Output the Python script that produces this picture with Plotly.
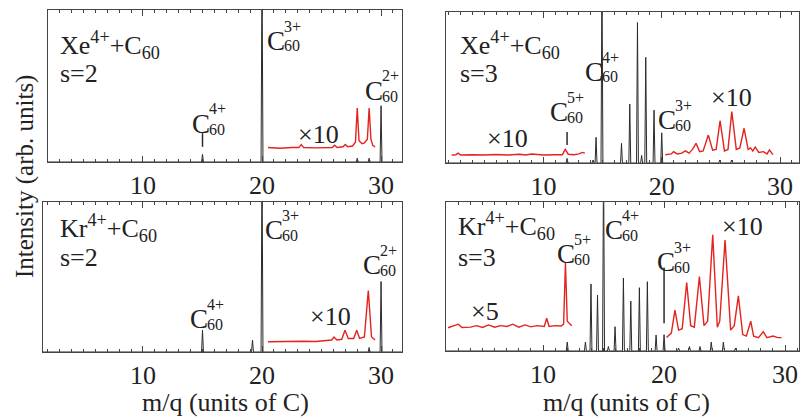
import plotly.graph_objects as go

W, H = 800, 417

# ---------------- data ----------------
# Panel A: Xe4+ + C60, s=2  (black spectrum peaks: position, height)
a_pk_x = [15.0, 20.0, 28.0, 29.0, 30.0]
a_pk_y = [0.05, 1.30, 0.025, 0.025, 0.37]
a_red_x = [20.5, 21.5, 22.5, 23.1, 23.3, 23.5, 24.5, 25.5, 25.9, 26.1, 26.3, 26.8, 27.0, 27.2,
           27.6, 27.85, 28.0, 28.15, 28.4, 28.6, 28.85, 29.0, 29.15, 29.3, 29.5]
a_red_y = [0.095, 0.09, 0.095, 0.095, 0.115, 0.095, 0.093, 0.095, 0.095, 0.11, 0.095, 0.1, 0.115, 0.1,
           0.105, 0.13, 0.355, 0.14, 0.12, 0.125, 0.15, 0.355, 0.15, 0.11, 0.1]
a_mark_x, a_mark_y0, a_mark_y1 = [15.0], [0.10], [0.19]

# Panel B: Xe4+ + C60, s=3
b_pk_x = [12.0, 14.2, 14.45, 14.95, 16.6, 17.3, 17.95, 18.3, 18.65, 19.35, 20.0, 24.9, 25.9]
b_pk_y = [0.03, 0.02, 0.17, 1.30, 0.13, 0.39, 0.93, 0.05, 0.70, 0.35, 0.20, 0.02, 0.02]
b_redL_x = [2.25, 2.6, 2.8, 3.0, 4.0, 5.0, 6.0, 7.0, 8.0, 8.5, 9.0, 9.5, 10.0, 11.0, 11.6,
            11.85, 12.1, 12.6, 13.0, 13.3, 13.5]
b_redL_y = [0.053, 0.055, 0.065, 0.053, 0.055, 0.053, 0.056, 0.053, 0.058, 0.053, 0.06, 0.055,
            0.053, 0.055, 0.055, 0.09, 0.058, 0.055, 0.06, 0.07, 0.065]
b_redR_x = [20.3, 20.8, 21.0, 21.3, 21.7, 22.0, 22.3, 22.6, 22.9, 23.2, 23.5, 23.94, 24.3, 24.6,
            24.93, 25.3, 25.6, 25.92, 26.3, 26.6, 26.96, 27.3, 27.5, 27.7, 27.9, 28.2, 28.6, 28.9,
            29.1, 29.4]
b_redR_y = [0.055, 0.06, 0.075, 0.06, 0.065, 0.08, 0.065, 0.09, 0.13, 0.075, 0.08, 0.185, 0.085,
            0.09, 0.28, 0.08, 0.09, 0.34, 0.09, 0.1, 0.23, 0.09, 0.1, 0.08, 0.106, 0.07, 0.075,
            0.06, 0.086, 0.055]
b_mark_x, b_mark_y0, b_mark_y1 = [12.0], [0.12], [0.205]

# Panel C: Kr4+ + C60, s=2
c_pk_x = [15.0, 19.2, 20.0, 29.0, 30.0]
c_pk_y = [0.145, 0.08, 1.30, 0.03, 0.47]
c_red_x = [20.5, 21.5, 22.5, 23.5, 24.5, 25.5, 25.85, 26.05, 26.3, 26.7, 26.97, 27.25, 27.7,
           27.96, 28.2, 28.6, 28.93, 29.2, 29.5]
c_red_y = [0.068, 0.07, 0.068, 0.072, 0.07, 0.075, 0.08, 0.1, 0.08, 0.085, 0.145, 0.09, 0.09,
           0.145, 0.09, 0.1, 0.41, 0.1, 0.08]

# Panel D: Kr4+ + C60, s=3
d_pk_x = [12.0, 13.5, 13.96, 14.5, 15.0, 15.4, 15.95, 16.64, 17.25, 17.96, 18.62, 19.34, 20.0,
          21.2, 22.1, 22.97, 23.9, 24.9, 25.9]
d_pk_y = [0.06, 0.06, 0.45, 0.376, 1.30, 0.03, 0.163, 0.49, 0.335, 0.425, 0.465, 0.107, 0.11,
          0.02, 0.03, 0.03, 0.06, 0.06, 0.02]
d_redL_x = [2.15, 2.5, 3.0, 3.3, 4.0, 4.5, 5.0, 5.5, 6.0, 6.5, 7.0, 7.5, 8.0, 8.5, 9.0, 9.5,
            10.1, 10.3, 10.5, 11.0, 11.5, 11.7, 11.85, 12.0, 12.37]
d_redL_y = [0.156, 0.165, 0.18, 0.158, 0.16, 0.17, 0.158, 0.175, 0.16, 0.17, 0.165, 0.18, 0.16,
            0.175, 0.162, 0.17, 0.165, 0.22, 0.165, 0.17, 0.168, 0.18, 0.59, 0.2, 0.17]
d_redR_x = [20.2, 20.6, 20.9, 21.2, 21.5, 21.87, 22.2, 22.5, 22.92, 23.3, 23.6, 24.02, 24.4,
            24.6, 25.04, 25.5, 25.8, 26.14, 26.5, 26.8, 27.16, 27.4, 27.8, 28.2, 28.5, 29.0,
            29.4, 29.7]
d_redR_y = [0.09, 0.12, 0.275, 0.14, 0.15, 0.46, 0.17, 0.16, 0.5, 0.17, 0.2, 0.78, 0.16, 0.2,
            0.745, 0.14, 0.17, 0.37, 0.11, 0.1, 0.2, 0.1, 0.09, 0.13, 0.09, 0.1, 0.09, 0.09]
d_mark_x, d_mark_y0, d_mark_y1 = [20.0], [0.186], [0.56]

# ---------------- styling ----------------
BLACK = "#2b2b2b"
RED = "#e3231f"
FRAME = "#444444"
SERIF = "Liberation Serif, Times New Roman, serif"


def spikes(px, py, lo, hi, w=0.08):
    xs, ys = [lo], [0.0]
    for c, h in sorted(zip(px, py)):
        xs += [c - w, c, c + w]
        ys += [0.0, h, 0.0]
    xs.append(hi)
    ys.append(0.0)
    return xs, ys


def marks(mx, y0, y1):
    xs, ys = [], []
    for x, a, b in zip(mx, y0, y1):
        xs += [x, x, None]
        ys += [a, b, None]
    return xs, ys


def pxx(x):
    return x / W


def pxy(y):
    return 1 - y / H


# panel geometry in reference pixels: (left, right, top, bottom), x-range
panels = [
    dict(px=(48, 402, 10, 162), xr=(2.02, 31.76)),
    dict(px=(446, 799, 12, 163), xr=(1.77, 31.6)),
    dict(px=(43, 402, 202, 352), xr=(1.6, 31.76)),
    dict(px=(446, 799, 202, 351), xr=(1.98, 31.15)),
]

fig = go.Figure()

series = [
    (a_pk_x, a_pk_y, [(a_red_x, a_red_y)], (a_mark_x, a_mark_y0, a_mark_y1)),
    (b_pk_x, b_pk_y, [(b_redL_x, b_redL_y), (b_redR_x, b_redR_y)], (b_mark_x, b_mark_y0, b_mark_y1)),
    (c_pk_x, c_pk_y, [(c_red_x, c_red_y)], None),
    (d_pk_x, d_pk_y, [(d_redL_x, d_redL_y), (d_redR_x, d_redR_y)], (d_mark_x, d_mark_y0, d_mark_y1)),
]

for i, (pkx, pky, reds, mk) in enumerate(series):
    n = "" if i == 0 else str(i + 1)
    xa, ya = "x" + n, "y" + n
    lo, hi = panels[i]["xr"]
    sx, sy = spikes(pkx, pky, lo, hi)
    fig.add_trace(go.Scatter(x=sx, y=sy, mode="lines", line=dict(color=BLACK, width=1),
                             xaxis=xa, yaxis=ya, showlegend=False, hoverinfo="skip"))
    for rx, ry in reds:
        fig.add_trace(go.Scatter(x=rx, y=ry, mode="lines", line=dict(color=RED, width=1.4),
                                 xaxis=xa, yaxis=ya, showlegend=False, hoverinfo="skip"))
    if mk:
        mx, my = marks(*mk)
        fig.add_trace(go.Scatter(x=mx, y=my, mode="lines", line=dict(color=BLACK, width=1.5),
                                 xaxis=xa, yaxis=ya, showlegend=False, hoverinfo="skip"))

layout = dict(width=W, height=H, margin=dict(l=0, r=0, t=0, b=0),
              paper_bgcolor="white", plot_bgcolor="white", showlegend=False)

for i, p in enumerate(panels):
    n = "" if i == 0 else str(i + 1)
    l, r, t, b = p["px"]
    layout["xaxis" + n] = dict(
        domain=[pxx(l), min(pxx(r), 1.0)], range=list(p["xr"]), anchor="y" + n,
        showline=True, linecolor=FRAME, linewidth=1, mirror="ticks",
        ticks="inside", ticklen=6, tickwidth=1, tickcolor=FRAME,
        tick0=0, dtick=10, showgrid=False, zeroline=False,
        minor=dict(dtick=1, ticks="inside", ticklen=3, tickcolor=FRAME, showgrid=False),
        tickfont=dict(family=SERIF, size=26, color="#222"), ticklabelstandoff=0,
        ticklabeloverflow="allow", fixedrange=True,
    )
    layout["yaxis" + n] = dict(
        domain=[pxy(b), pxy(t)], range=[0, 1], anchor="x" + n,
        showline=True, linecolor=FRAME, linewidth=1, mirror=True,
        ticks="", showticklabels=False, showgrid=False, zeroline=False, fixedrange=True,
    )

fig.update_layout(**layout)

ann = []


def text(s, x, y, size=26, xanchor="left", angle=0):
    ann.append(dict(text=s, x=pxx(x), y=pxy(y), xref="paper", yref="paper",
                    xanchor=xanchor, yanchor="middle", showarrow=False, textangle=angle,
                    font=dict(family=SERIF, size=size, color="#222")))


def c60(charge, x, y):
    text("C", x - 2, y, 27)
    text(charge, x + 15, y - 15, 16)
    text("60", x + 15, y + 5, 16)


# system labels
text("Xe<sup>4+</sup>+C<sub>60</sub>", 58, 45)
text("s=2", 58, 73)
text("Xe<sup>4+</sup>+C<sub>60</sub>", 458, 45)
text("s=3", 458, 73)
text("Kr<sup>4+</sup>+C<sub>60</sub>", 58, 228)
text("s=2", 58, 257)
text("Kr<sup>4+</sup>+C<sub>60</sub>", 456, 226)
text("s=3", 456, 257)

# C60 charge-state labels
c60("4+", 192, 124); c60("3+", 267, 41); c60("2+", 365, 91)
c60("5+", 550, 112); c60("4+", 585, 72); c60("3+", 658, 120)
c60("4+", 190, 319); c60("3+", 265, 230); c60("2+", 363, 265)
c60("5+", 557, 254); c60("4+", 605, 230); c60("3+", 657, 262)

# magnification labels
text("×10", 318, 134, xanchor="center")
text("×10", 507, 139, xanchor="center")
text("×10", 731, 98, xanchor="center")
text("×10", 330, 316, xanchor="center")
text("×5", 485, 311, xanchor="center")
text("×10", 742, 227, xanchor="center")

# axis titles
text("m/q (units of C)", 226, 402, xanchor="center")
text("m/q (units of C)", 626, 402, xanchor="center")
text("Intensity (arb. units)", 25, 177, size=25, xanchor="center", angle=-90)

fig.update_layout(annotations=ann)
fig.write_html(
    "out.html",
    config={"displayModeBar": False, "staticPlot": True},
    post_script="document.body.style.margin='0';document.body.style.overflow='hidden';",
)
